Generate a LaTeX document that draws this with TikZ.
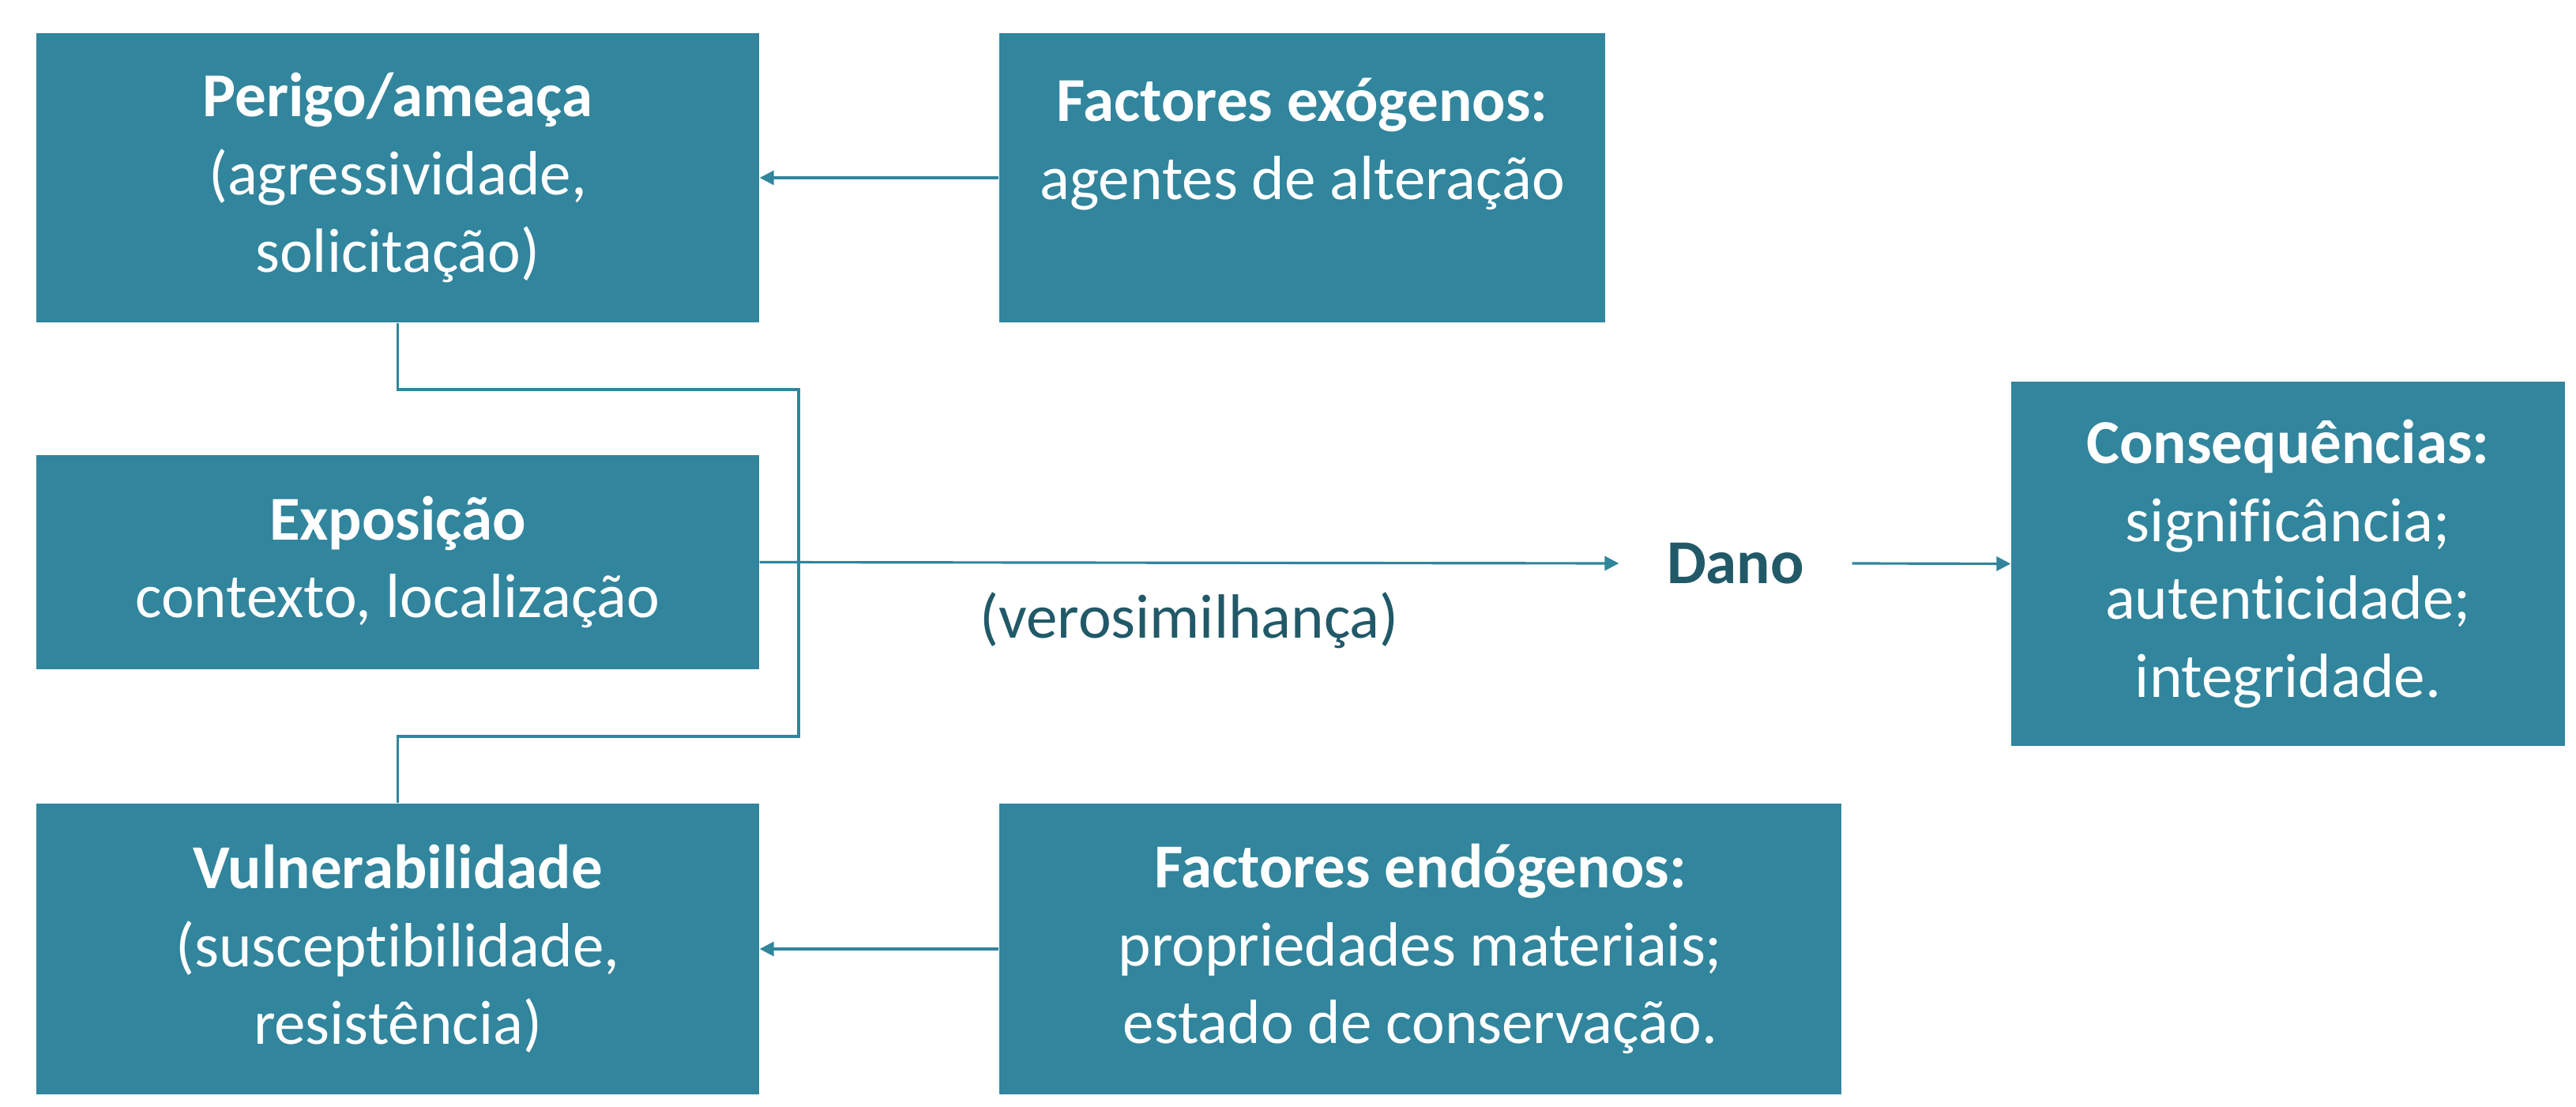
\documentclass[tikz,border=0pt]{standalone}
\usepackage{fontspec}
\setmainfont{Carlito}[Ligatures=NoCommon]
\usepackage{xcolor}
\usetikzlibrary{arrows.meta, positioning}
\definecolor{tealbox}{HTML}{31859C}
\definecolor{tealtext}{HTML}{215968}
\tikzset{
    box/.style={rectangle, fill=tealbox, text=white, align=center, inner sep=0pt, font=\fontsize{22.5}{28}\selectfont},
    link/.style={draw=tealbox, line width=0.9pt},
    arrow/.style={link, -{Triangle[length=0.18cm, width=0.18cm]}},
    plain_label/.style={text=tealtext, font=\fontsize{22.5}{28}\selectfont}
}

\begin{document}
\begin{tikzpicture}
    \useasboundingbox (0,0) rectangle (32.61,-14.01);
    % Left column
    \node[box, minimum width=9.15cm, minimum height=3.66cm] (perigo) at (5.035,-2.25)
        {\textbf{Perigo/ameaça}\\(agressividade,\\solicitação)};
    \node[box, minimum width=9.15cm, minimum height=2.71cm] (expo) at (5.035,-7.115)
        {\textbf{Exposição}\\contexto, localização};
    \node[box, minimum width=9.15cm, minimum height=3.68cm] (vuln) at (5.035,-12.01)
        {\textbf{Vulnerabilidade}\\(susceptibilidade,\\resistência)};
    % Factors
    \node[box, minimum width=7.67cm, minimum height=3.66cm] (exog) at (16.485,-2.25)
        {\textbf{Factores exógenos:}\\agentes de alteração\\\mbox{}};
    \node[box, minimum width=10.66cm, minimum height=3.68cm] (endog) at (17.98,-12.01)
        {\textbf{Factores endógenos:}\\propriedades materiais;\\estado de conservação.};
    % Damage and consequences
    \node[plain_label, font=\fontsize{22.5}{28}\selectfont\bfseries, inner xsep=0.6cm] (dano) at (21.97,-7.13) {Dano};
    \node[box, minimum width=7.01cm, minimum height=4.61cm] (conseq) at (28.965,-7.135)
        {\textbf{Consequências:}\\significância;\\autenticidade;\\integridade.};
    % Connectors
    \coordinate (jtop) at (10.11,-4.93);
    \coordinate (jbot) at (10.11,-9.32);
    \draw[link] (perigo.south) |- (jtop) -- (jbot) -| (vuln.north);
    \draw[arrow] (exog.west) -- (perigo.east);
    \draw[arrow] (endog.west) -- (vuln.east);
    \draw[arrow] (expo.east) -- (dano.west)
        node[plain_label, name=lik, midway, yshift=-0.73cm] {(verosimilhança)};
    \draw[arrow] (dano.east) -- (conseq.west);
\end{tikzpicture}
\end{document}
